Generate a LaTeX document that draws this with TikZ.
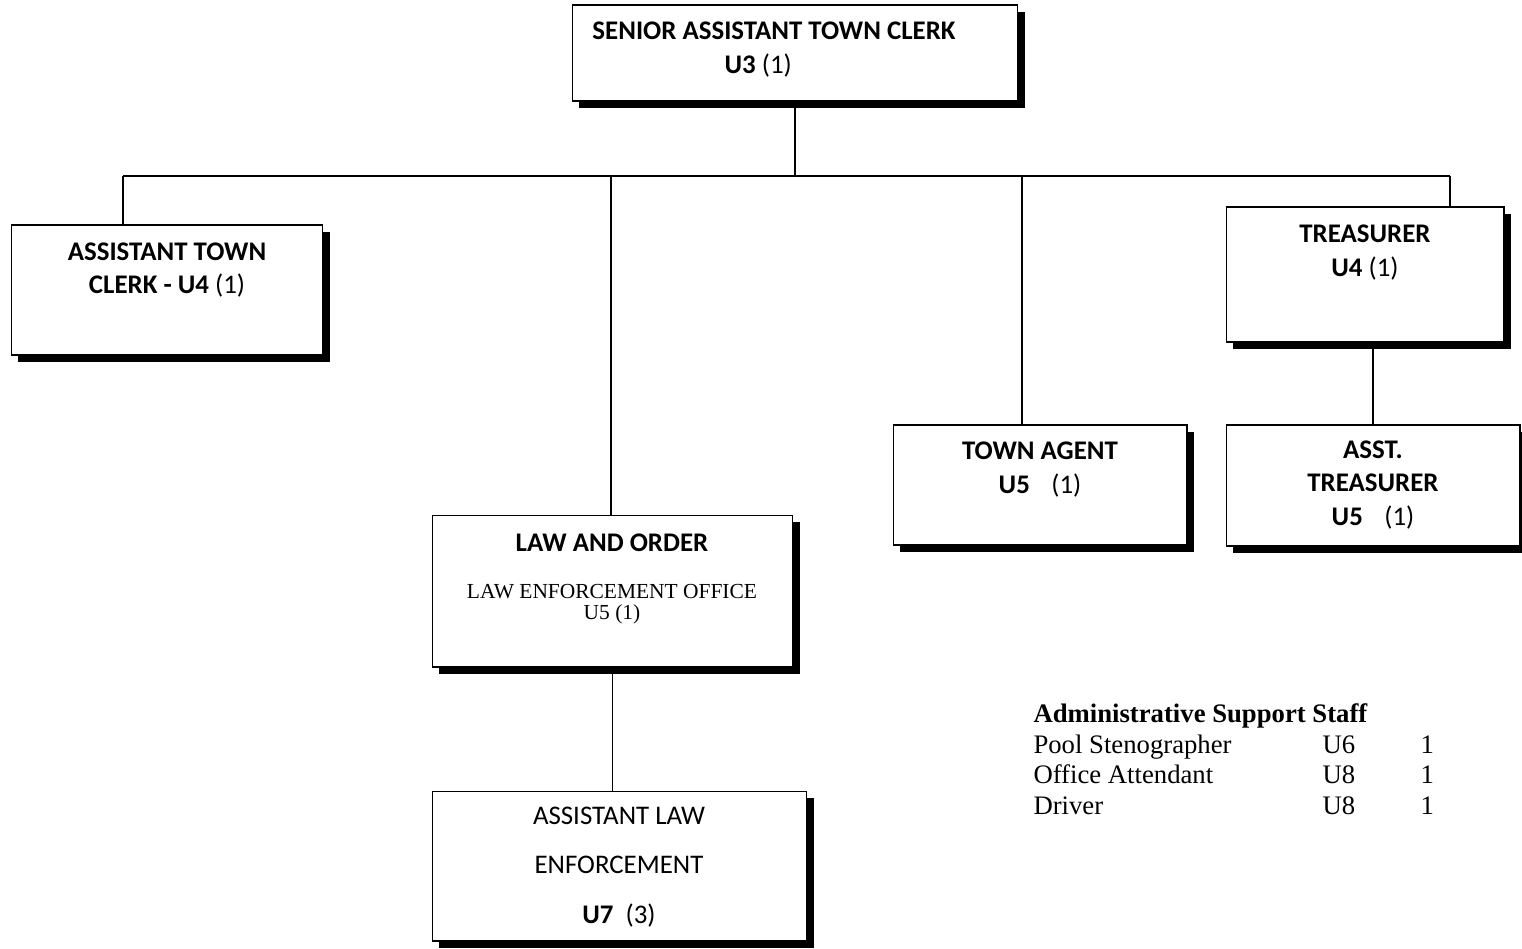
\documentclass[tikz,border=0pt]{standalone}
\usepackage{fontspec}
\setmainfont{Carlito}
\newfontfamily\timesfont{Liberation Serif}
\usetikzlibrary{shadows}

\begin{document}
\begin{tikzpicture}[x=0.02cm,y=-0.02cm,line width=.6pt,
        post/.style={draw, fill=white, inner sep=0pt, outer sep=0pt,
          general shadow={fill=black, shadow xshift=4pt, shadow yshift=-4pt}},
        lbl/.style={align=center, inner sep=0pt, font=\fontsize{15.3}{19}\selectfont},
        staff/.style={anchor=base west, inner sep=0pt, font=\timesfont\fontsize{15.2}{17}\selectfont}]
        \useasboundingbox (0,0) rectangle (1522,948);
        % boxes
        \node[post, minimum width=8.92cm, minimum height=1.92cm] (top)   at (795,53)    {};
        \node[post, minimum width=6.24cm, minimum height=2.60cm] (atc)   at (167,290)   {};
        \node[post, minimum width=5.56cm, minimum height=2.70cm] (tre)   at (1365,274.5) {};
        \node[post, minimum width=5.88cm, minimum height=2.42cm] (atre)  at (1373,485.5) {};
        \node[post, minimum width=5.88cm, minimum height=2.40cm] (agent) at (1040,485)  {};
        \node[post, minimum width=7.22cm, minimum height=3.04cm] (law)   at (612.5,591) {};
        \node[post, minimum width=7.50cm, minimum height=3.00cm] (alaw)  at (619.5,866) {};
        % texts
        \node[lbl] (topT)   at (774,49.5)  {\textbf{SENIOR ASSISTANT TOWN CLERK}\\\textbf{U3} (1)\hspace*{18pt}};
        \node[lbl] (atcT)   at (167,270)   {\textbf{ASSISTANT TOWN}\\\textbf{CLERK - U4} (1)};
        \node[lbl] (treT)   at (1365,252.5) {\textbf{TREASURER}\\\textbf{U4} (1)};
        \node[lbl] (atreT)  at (1373,485)  {\textbf{ASST.}\\\textbf{TREASURER}\\\textbf{U5}\hspace{0.8em}(1)};
        \node[lbl] (agentT) at (1040,469.5) {\textbf{TOWN AGENT}\\\textbf{U5}\hspace{0.8em}(1)};
        \node[lbl] (lawT)   at (612,543)   {\textbf{LAW AND ORDER}};
        \node[lbl, font=\timesfont\fontsize{12.2}{12}\selectfont] (lawS) at (612,604.5) {LAW ENFORCEMENT OFFICE\\U5 (1)};
        \node[lbl, font=\fontsize{15.3}{28}\selectfont] (alawT) at (619,867) {ASSISTANT LAW\\ENFORCEMENT\\\textbf{U7}\ \ (3)};
        % connectors
        \coordinate (busL) at (123,176);
        \coordinate (busR) at (1450,176);
        \coordinate (busB) at (611,176);
        \coordinate (busA) at (1022,176);
        \draw (top.south) -- (top.south |- busL);
        \draw (busL) -- (busR);
        \draw (busL) -- (busL |- atc.north);
        \draw (busB) -- (busB |- law.north);
        \draw (busA) -- (busA |- agent.north);
        \draw (busR) -- (busR |- tre.north);
        \draw (atre.north |- tre.south) -- (atre.north);
        \draw (law.south) -- (law.south |- alaw.north);
        % support staff
        \node[staff] (staffH) at (1033,722) {\textbf{Administrative Support Staff}};
        \node[staff] (pool)   at (1033,753) {Pool Stenographer};
        \node[staff] (poolG)  at (1322,753) {U6};
        \node[staff] (poolN)  at (1420,753) {1};
        \node[staff] (att)    at (1033,783) {Office Attendant};
        \node[staff] (attG)   at (1322,783) {U8};
        \node[staff] (attN)   at (1420,783) {1};
        \node[staff] (drv)    at (1033,814) {Driver};
        \node[staff] (drvG)   at (1322,814) {U8};
        \node[staff] (drvN)   at (1420,814) {1};
\end{tikzpicture}
\end{document}
